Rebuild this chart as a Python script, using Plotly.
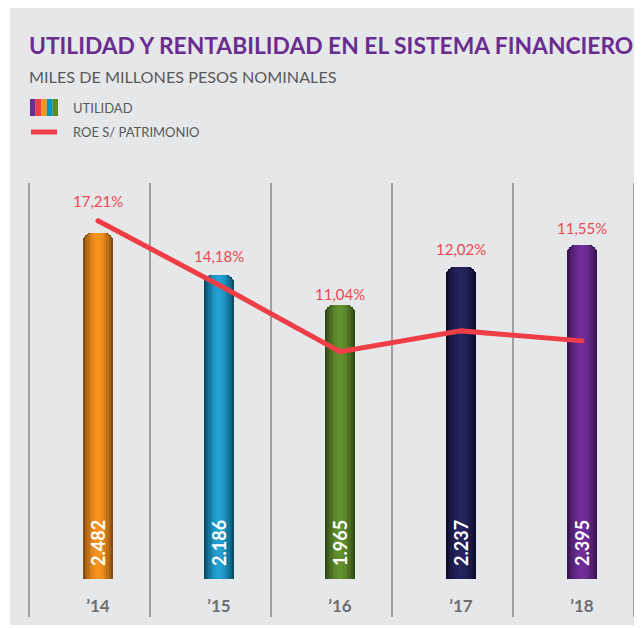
import plotly.graph_objects as go

# ---------------- data ----------------
years = ["’14", "’15", "’16", "’17", "’18"]
utilidad = [2482, 2186, 1965, 2237, 2395]
utilidad_labels = ["2.482", "2.186", "1.965", "2.237", "2.395"]
roe = [17.21, 14.18, 11.04, 12.02, 11.55]
roe_labels = ["17,21%", "14,18%", "11,04%", "12,02%", "11,55%"]

# ---------------- style ----------------
OFF = 8                                   # page body margin
W, H = 642 - OFF, 628 - OFF
L, R, T, B = 29, 634, 183, 579            # plot area (reference pixels)
def X(px): return (px - L) / (R - L)
def Y(py): return (B - py) / (B - T)

edge = ["#8a4c0f", "#064d68", "#314a16", "#0e0c29", "#371650"]
center = ["#f6931f", "#22a0cf", "#62902d", "#25235e", "#702d98"]
RED = "#ef3e46"
GRAY_TXT = "#58595b"
FONT = "Lato, 'Noto Sans', sans-serif"

def mix(c1, c2, t):
    a = [int(c1[i:i + 2], 16) for i in (1, 3, 5)]
    b = [int(c2[i:i + 2], 16) for i in (1, 3, 5)]
    return "#%02x%02x%02x" % tuple(round(a[k] + (b[k] - a[k]) * t) for k in range(3))

fig = go.Figure()

layers = [(0.248, 0.0, 8), (0.215, 0.25, 7), (0.18, 0.5, 5), (0.14, 0.72, 0),
          (0.10, 0.88, 0), (0.05, 1.0, 0)]
for w, t, rad in layers:
    fig.add_trace(go.Bar(
        x=years, y=utilidad, width=w,
        marker=dict(color=[mix(e, c, t) for e, c in zip(edge, center)], cornerradius=rad,
                    line=dict(width=0)),
        hoverinfo="skip", showlegend=False))

fig.add_trace(go.Scatter(
    x=years, y=roe, yaxis="y2", mode="lines+markers",
    line=dict(color=RED, width=5), marker=dict(color=RED, size=5),
    hoverinfo="skip", showlegend=False))

ann = []
roe_shift = [32, 19, 11, 18, 17]
for i in range(len(years)):
    ann.append(dict(x=years[i], y=utilidad[i], xref="x", yref="y", text=roe_labels[i],
                    showarrow=False, yanchor="middle", yshift=roe_shift[i],
                    font=dict(family=FONT, size=15, color="#ee4850")))
    ann.append(dict(x=years[i], y=0, xref="x", yref="y", text="<b>%s</b>" % utilidad_labels[i],
                    showarrow=False, textangle=-90, yanchor="middle", yshift=36,
                    font=dict(family=FONT, size=18, color="white")))

ann += [
    dict(x=X(27), y=Y(45), xref="paper", yref="paper", xanchor="left", yanchor="middle",
         text="<b>UTILIDAD Y RENTABILIDAD EN EL SISTEMA FINANCIERO</b>", showarrow=False,
         font=dict(family=FONT, size=22.8, color="#6a2c8f")),
    dict(x=X(27), y=Y(76), xref="paper", yref="paper", xanchor="left", yanchor="middle",
         text="MILES DE MILLONES PESOS NOMINALES", showarrow=False,
         font=dict(family=FONT, size=16.2, color=GRAY_TXT)),
    dict(x=X(71), y=Y(108), xref="paper", yref="paper", xanchor="left", yanchor="middle",
         text="UTILIDAD", showarrow=False, font=dict(family=FONT, size=13, color=GRAY_TXT)),
    dict(x=X(71), y=Y(132), xref="paper", yref="paper", xanchor="left", yanchor="middle",
         text="ROE S/ PATRIMONIO", showarrow=False, font=dict(family=FONT, size=13, color=GRAY_TXT)),
]

shapes = [dict(type="rect", xref="paper", yref="paper", x0=X(10), x1=X(660), y0=Y(625), y1=Y(-10),
               fillcolor="#e6e7e9", line=dict(width=0), layer="below")]
for k in range(6):
    shapes.append(dict(type="line", xref="paper", yref="paper", x0=k / 5, x1=k / 5,
                       y0=Y(617), y1=1, line=dict(color="#878789", width=1.5), layer="below"))
stripe_cols = ["#6b2d90", "#ef4044", "#f7941d", "#0096c8", "#5a8a2a"]
sx0, sw = 30, 5.6
for j, c in enumerate(stripe_cols):
    shapes.append(dict(type="rect", xref="paper", yref="paper", x0=X(sx0 + j * sw), x1=X(sx0 + (j + 1) * sw),
                       y0=Y(116), y1=Y(99), fillcolor=c, line=dict(width=0)))
shapes.append(dict(type="line", xref="paper", yref="paper", x0=X(31), x1=X(57), y0=Y(132), y1=Y(132),
                   line=dict(color=RED, width=5)))

fig.update_layout(
    width=W, height=H, margin=dict(l=L - OFF, r=W - (R - OFF), t=T - OFF, b=H - (B - OFF), pad=0),
    paper_bgcolor="white", plot_bgcolor="rgba(0,0,0,0)",
    barmode="overlay", bargap=0,
    xaxis=dict(type="category", range=[-0.57, 4.43], showgrid=False, zeroline=False, showline=False,
               ticks="", ticklabelstandoff=15,
               tickfont=dict(family=FONT, size=17, color="#6d6e71", weight="bold")),
    yaxis=dict(range=[0, 2843], visible=False, showgrid=False, zeroline=False),
    yaxis2=dict(range=[0.333, 18.986], overlaying="y", visible=False, showgrid=False, zeroline=False),
    annotations=ann, shapes=shapes, showlegend=False,
)

fig.write_html("out.html")
